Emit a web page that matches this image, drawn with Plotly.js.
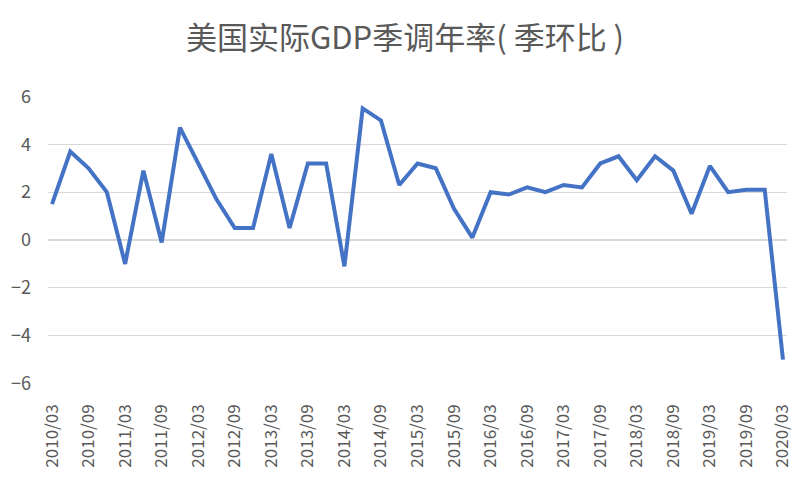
<!DOCTYPE html>
<html>
<head>
<meta charset="utf-8">
<script src="https://cdn.plot.ly/plotly-3.0.1.min.js"></script>
<style>
  body { margin: 0; background: #fff; }
  #chart { width: 810px; height: 481px; }
</style>
</head>
<body>
<div id="chart"></div>
<script>
// 美国实际GDP季调年率（季环比），2010Q1 - 2020Q1
var quarters = [
  "2010/03", "2010/06", "2010/09", "2010/12",
  "2011/03", "2011/06", "2011/09", "2011/12",
  "2012/03", "2012/06", "2012/09", "2012/12",
  "2013/03", "2013/06", "2013/09", "2013/12",
  "2014/03", "2014/06", "2014/09", "2014/12",
  "2015/03", "2015/06", "2015/09", "2015/12",
  "2016/03", "2016/06", "2016/09", "2016/12",
  "2017/03", "2017/06", "2017/09", "2017/12",
  "2018/03", "2018/06", "2018/09", "2018/12",
  "2019/03", "2019/06", "2019/09", "2019/12",
  "2020/03"
];
var gdpRate = [
  1.5, 3.7, 3.0, 2.0,
  -1.0, 2.9, -0.1, 4.7,
  3.2, 1.7, 0.5, 0.5,
  3.6, 0.5, 3.2, 3.2,
  -1.1, 5.5, 5.0, 2.3,
  3.2, 3.0, 1.3, 0.1,
  2.0, 1.9, 2.2, 2.0,
  2.3, 2.2, 3.2, 3.5,
  2.5, 3.5, 2.9, 1.1,
  3.1, 2.0, 2.1, 2.1,
  -5.0
];
var yTicks = [-6, -4, -2, 0, 2, 4, 6];

var grey = "#595959";
var font = "'Noto Sans CJK SC', 'Microsoft YaHei', sans-serif";
var xRange = [-0.22, quarters.length - 1 + 0.22];

var trace = {
  x: quarters,
  y: gdpRate,
  type: "scatter",
  mode: "lines",
  line: { color: "#4472C4", width: 4 },
  hoverinfo: "x+y"
};

var layout = {
  width: 810,
  height: 481,
  margin: { l: 48, r: 23, t: 96, b: 97 },
  paper_bgcolor: "#fff",
  plot_bgcolor: "#fff",
  showlegend: false,
  font: { family: font, color: grey, size: 18 },
  title: {
    text: "美国实际GDP季调年率( 季环比 )",
    font: { family: font, size: 31, color: grey },
    x: 0.5, xanchor: "center",
    y: 0.92, yanchor: "middle"
  },
  // bottom axis: only the date labels
  xaxis: {
    type: "category",
    range: xRange,
    dtick: 2,
    tickangle: -90,
    ticks: "",
    showgrid: false,
    zeroline: false,
    showline: false,
    ticklabelstandoff: 16,
    tickfont: { size: 17, color: grey }
  },
  // axis line with tick marks sitting on y = 0
  xaxis2: {
    overlaying: "x",
    anchor: "free",
    position: 0.5,
    range: xRange,
    tick0: 0,
    dtick: 2,
    ticks: "outside",
    ticklen: 5,
    tickcolor: "#d9d9d9",
    showticklabels: false,
    showgrid: false,
    zeroline: false,
    showline: true,
    linecolor: "#d9d9d9",
    linewidth: 1.3
  },
  yaxis: {
    range: [-6.02, 6.02],
    tickvals: yTicks,
    ticks: "",
    showgrid: true,
    gridcolor: "#d9d9d9",
    gridwidth: 1.3,
    zeroline: false,
    showline: false,
    ticklabelstandoff: 16,
    tickfont: { size: 18, color: grey }
  }
};

Plotly.newPlot("chart", [trace], layout, { displayModeBar: false, staticPlot: true });
</script>
</body>
</html>
